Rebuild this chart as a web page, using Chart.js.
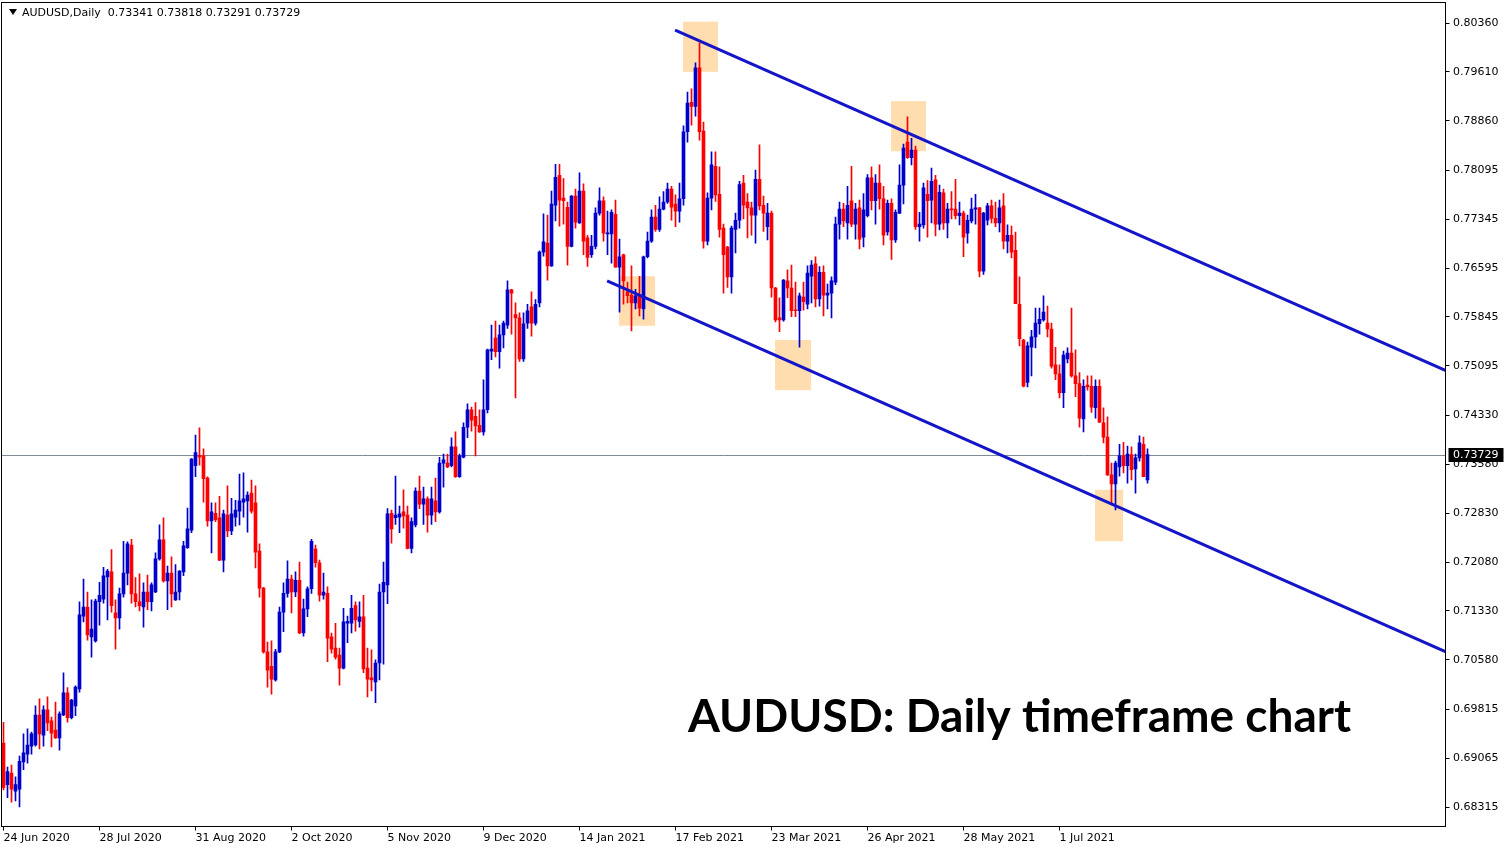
<!DOCTYPE html>
<html>
<head>
<meta charset="utf-8">
<script src="https://cdn.jsdelivr.net/npm/chart.js@4.4.0/dist/chart.umd.min.js"></script>
<style>
html, body { margin: 0; padding: 0; background: #fff; }
canvas { display: block; }
</style>
</head>
<body>
<canvas id="myChart" width="1510" height="850"></canvas>
<script>
const header = 'AUDUSD,Daily  0.73341 0.73818 0.73291 0.73729';
const caption = 'AUDUSD: Daily timeframe chart';

// trading days, weekends and these two skipped
const startDate = '2020-06-24';
const holidays = ['2020-12-25', '2021-01-01'];
const totalSlots = 361;

const tickLabels = ['24 Jun 2020', '28 Jul 2020', '31 Aug 2020', '2 Oct 2020', '5 Nov 2020', '9 Dec 2020',
  '14 Jan 2021', '17 Feb 2021', '23 Mar 2021', '26 Apr 2021', '28 May 2021', '1 Jul 2021'];
const yTicks = [0.80360, 0.79610, 0.78860, 0.78095, 0.77345, 0.76595, 0.75845, 0.75095, 0.74330,
  0.73580, 0.72830, 0.72080, 0.71330, 0.70580, 0.69815, 0.69065, 0.68315];

const opens = [
  .6930,.6866,.6884,.6856,.6859,.6901,.6913,.6925,.6927,.6973,.6942,.6981,.6964,.6950,.6938,.6973,.7007,.6969,.6987,.7013,
  .7125,.7139,.7093,.7087,.7147,.7151,.7185,.7193,.7130,.7122,.7159,.7191,.7234,.7159,.7147,.7139,.7162,.7147,.7162,.7213,
  .7242,.7179,.7191,.7150,.7162,.7193,.7230,.7257,.7356,.7372,.7371,.7337,.7271,.7283,.7276,.7211,.7280,.7256,.7277,.7286,
  .7300,.7302,.7314,.7299,.7225,.7168,.7070,.7048,.7027,.7070,.7131,.7160,.7182,.7162,.7180,.7099,.7136,.7167,.7228,.7207,
  .7157,.7160,.7093,.7076,.7065,.7045,.7114,.7114,.7141,.7117,.7124,.7045,.7030,.7024,.7053,.7162,.7173,.7283,.7276,.7277,
  .7285,.7280,.7229,.7265,.7317,.7297,.7305,.7280,.7302,.7285,.7360,.7360,.7356,.7385,.7339,.7369,.7415,.7442,.7432,.7418,
  .7408,.7442,.7532,.7552,.7531,.7557,.7572,.7626,.7588,.7583,.7520,.7575,.7600,.7575,.7606,.7684,.7698,.7663,.7756,.7802,
  .7767,.7753,.7693,.7770,.7729,.7778,.7706,.7680,.7693,.7744,.7763,.7712,.7712,.7742,.7661,.7680,.7623,.7618,.7606,.7618,
  .7597,.7677,.7701,.7738,.7719,.7750,.7761,.7781,.7758,.7747,.7766,.7869,.7914,.7908,.7967,.7870,.7701,.7767,.7816,.7773,
  .7721,.7692,.7646,.7719,.7733,.7790,.7761,.7752,.7741,.7796,.7756,.7723,.7744,.7629,.7583,.7580,.7640,.7629,.7595,.7594,
  .7615,.7604,.7647,.7666,.7612,.7653,.7618,.7621,.7638,.7727,.7750,.7729,.7763,.7727,.7752,.7707,.7740,.7798,.7763,.7790,
  .7766,.7715,.7759,.7703,.7744,.7787,.7853,.7829,.7841,.7723,.7726,.7773,.7764,.7795,.7727,.7775,.7729,.7750,.7750,.7740,
  .7744,.7713,.7732,.7750,.7752,.7655,.7733,.7755,.7736,.7729,.7755,.7701,.7710,.7687,.7604,.7549,.7484,.7538,.7554,.7574,
  .7580,.7575,.7566,.7511,.7497,.7468,.7520,.7529,.7494,.7482,.7428,.7480,.7478,.7445,.7478,.7422,.7400,.7342,.7328,.7354,
  .7371,.7356,.7373,.7351,.7368,.7389,.73341
];
const highs = [
  .6962,.6893,.6896,.6878,.6910,.6944,.6952,.6947,.6987,.6998,.6987,.7001,.6970,.6993,.6978,.7038,.7015,.6997,.7018,.7147,
  .7182,.7162,.7150,.7151,.7177,.7200,.7197,.7227,.7150,.7168,.7240,.7239,.7243,.7184,.7190,.7176,.7188,.7176,.7222,.7265,
  .7276,.7202,.7216,.7204,.7195,.7240,.7291,.7367,.7403,.7414,.7382,.7339,.7299,.7299,.7309,.7288,.7325,.7306,.7303,.7343,
  .7345,.7316,.7334,.7325,.7236,.7169,.7085,.7087,.7074,.7139,.7176,.7210,.7188,.7193,.7208,.7151,.7170,.7243,.7234,.7211,
  .7191,.7170,.7099,.7114,.7076,.7137,.7125,.7157,.7147,.7147,.7157,.7076,.7073,.7058,.7174,.7208,.7290,.7288,.7340,.7294,
  .7319,.7294,.7276,.7322,.7340,.7323,.7308,.7323,.7337,.7369,.7374,.7374,.7399,.7408,.7374,.7422,.7451,.7446,.7453,.7442,
  .7488,.7535,.7572,.7578,.7572,.7578,.7640,.7627,.7606,.7591,.7591,.7604,.7623,.7611,.7686,.7743,.7741,.7778,.7819,.7819,
  .7797,.7761,.7771,.7781,.7806,.7789,.7710,.7710,.7752,.7783,.7769,.7747,.7749,.7764,.7704,.7681,.7638,.7663,.7627,.7647,
  .7678,.7715,.7749,.7756,.7769,.7777,.7790,.7785,.7772,.7790,.7878,.7930,.7935,.7975,.8005,.7884,.7775,.7838,.7838,.7815,
  .7727,.7693,.7724,.7744,.7793,.7802,.7774,.7761,.7810,.7849,.7770,.7759,.7747,.7630,.7614,.7642,.7657,.7664,.7638,.7621,
  .7638,.7663,.7671,.7677,.7662,.7663,.7635,.7646,.7738,.7761,.7759,.7785,.7816,.7759,.7764,.7774,.7803,.7815,.7803,.7818,
  .7785,.7764,.7766,.7749,.7818,.7850,.7892,.7859,.7847,.7745,.7790,.7794,.7813,.7802,.7787,.7781,.7759,.7777,.7796,.7761,
  .7747,.7741,.7767,.7773,.7753,.7745,.7759,.7764,.7761,.7764,.7774,.7726,.7724,.7715,.7646,.7550,.7546,.7564,.7598,.7598,
  .7617,.7601,.7575,.7538,.7511,.7532,.7537,.7598,.7534,.7499,.7488,.7494,.7494,.7488,.7488,.7445,.7431,.7360,.7363,.7389,
  .7392,.7386,.7385,.7374,.7402,.7400,.73818
];
const lows = [
  .6858,.6846,.6839,.6841,.6832,.6889,.6899,.6913,.6925,.6921,.6925,.6949,.6924,.6937,.6919,.6972,.6962,.6967,.6972,.7008,
  .7116,.7088,.7062,.7085,.7111,.7145,.7119,.7131,.7074,.7105,.7154,.7173,.7145,.7139,.7133,.7108,.7135,.7133,.7161,.7211,
  .7177,.7135,.7139,.7149,.7150,.7187,.7229,.7253,.7339,.7357,.7300,.7263,.7222,.7270,.7210,.7193,.7247,.7250,.7263,.7265,
  .7277,.7254,.7283,.7199,.7154,.7068,.7016,.7005,.7025,.7069,.7101,.7154,.7130,.7155,.7098,.7094,.7124,.7160,.7200,.7148,
  .7151,.7055,.7068,.7059,.7019,.7044,.7084,.7099,.7102,.7108,.7038,.7001,.7010,.6992,.7027,.7051,.7144,.7237,.7266,.7253,
  .7260,.7228,.7222,.7262,.7290,.7266,.7254,.7266,.7270,.7283,.7323,.7353,.7354,.7338,.7338,.7368,.7399,.7409,.7371,.7407,
  .7403,.7437,.7519,.7523,.7506,.7537,.7567,.7558,.7460,.7516,.7516,.7567,.7555,.7572,.7600,.7678,.7641,.7662,.7732,.7724,
  .7727,.7664,.7692,.7721,.7728,.7680,.7662,.7676,.7689,.7741,.7701,.7680,.7667,.7661,.7592,.7604,.7606,.7563,.7597,.7586,
  .7581,.7675,.7699,.7716,.7716,.7749,.7759,.7733,.7723,.7730,.7756,.7853,.7879,.7893,.7856,.7690,.7695,.7749,.7762,.7707,
  .7621,.7630,.7621,.7683,.7721,.7735,.7706,.7710,.7698,.7749,.7716,.7703,.7615,.7577,.7562,.7578,.7614,.7585,.7585,.7538,
  .7595,.7597,.7606,.7600,.7601,.7586,.7597,.7583,.7634,.7704,.7723,.7704,.7723,.7704,.7689,.7692,.7738,.7749,.7727,.7750,
  .7695,.7710,.7673,.7699,.7743,.7758,.7828,.7818,.7719,.7701,.7721,.7707,.7729,.7709,.7718,.7719,.7706,.7735,.7735,.7726,
  .7677,.7698,.7729,.7727,.7646,.7650,.7726,.7729,.7723,.7715,.7689,.7683,.7675,.7605,.7540,.7477,.7477,.7494,.7537,.7558,
  .7578,.7554,.7506,.7488,.7460,.7445,.7514,.7492,.7462,.7415,.7408,.7472,.7438,.7429,.7422,.7391,.7341,.7299,.7288,.7340,
  .7345,.7329,.7334,.7314,.7363,.7342,.73291
];
const closes = [
  .6862,.6886,.6859,.6866,.6902,.6915,.6927,.6944,.6973,.6944,.6981,.6961,.6945,.6938,.6975,.7007,.6969,.6996,.7016,.7127,
  .7139,.7096,.7105,.7148,.7157,.7187,.7194,.7141,.7122,.7159,.7191,.7236,.7159,.7147,.7141,.7162,.7147,.7173,.7213,.7242,
  .7179,.7191,.7159,.7162,.7194,.7233,.7259,.7366,.7376,.7369,.7336,.7271,.7285,.7273,.7211,.7282,.7256,.7282,.7288,.7302,
  .7305,.7311,.7286,.7223,.7168,.7070,.7042,.7028,.7070,.7131,.7160,.7182,.7162,.7180,.7099,.7136,.7167,.7240,.7207,.7157,
  .7162,.7091,.7074,.7062,.7045,.7116,.7117,.7137,.7119,.7124,.7044,.7028,.7027,.7053,.7162,.7177,.7282,.7259,.7280,.7282,
  .7279,.7229,.7270,.7317,.7297,.7305,.7280,.7305,.7285,.7360,.7365,.7354,.7385,.7339,.7371,.7415,.7442,.7426,.7417,.7408,
  .7442,.7534,.7535,.7531,.7557,.7575,.7626,.7621,.7583,.7520,.7574,.7594,.7575,.7604,.7684,.7700,.7663,.7758,.7799,.7764,
  .7763,.7693,.7770,.7730,.7778,.7701,.7676,.7693,.7744,.7763,.7713,.7713,.7745,.7661,.7677,.7640,.7617,.7606,.7617,.7598,
  .7677,.7701,.7738,.7719,.7750,.7761,.7781,.7753,.7747,.7766,.7869,.7913,.7908,.7967,.7869,.7701,.7767,.7818,.7772,.7719,
  .7680,.7646,.7721,.7733,.7788,.7756,.7752,.7741,.7796,.7755,.7744,.7744,.7629,.7580,.7580,.7641,.7629,.7594,.7594,.7617,
  .7608,.7652,.7664,.7612,.7653,.7618,.7621,.7640,.7727,.7750,.7732,.7756,.7727,.7750,.7704,.7749,.7798,.7763,.7790,.7766,
  .7710,.7759,.7703,.7745,.7787,.7844,.7829,.7841,.7723,.7727,.7783,.7763,.7793,.7727,.7776,.7729,.7750,.7749,.7740,.7744,
  .7707,.7733,.7750,.7752,.7655,.7744,.7755,.7736,.7729,.7752,.7701,.7710,.7684,.7605,.7551,.7478,.7540,.7554,.7575,.7581,
  .7592,.7566,.7509,.7497,.7468,.7526,.7529,.7494,.7482,.7429,.7478,.7477,.7446,.7478,.7423,.7400,.7342,.7328,.7360,.7371,
  .7356,.7374,.7350,.7368,.7391,.7339,.73729
];

// channel lines: [candle index, price] at each end
const upperTrend = [[167.9, 0.8025], [360.6, 0.7502]];
const lowerTrend = [[150.9, 0.7640], [360.6, 0.7070]];
// highlight boxes: [from index, to index, top price, bottom price]
const zones = [
  [169.9, 178.6, 0.8038, 0.7961],
  [221.9, 230.6, 0.7916, 0.7839],
  [153.9, 162.9, 0.7647, 0.7571],
  [192.9, 201.9, 0.7549, 0.7472],
  [272.9, 279.9, 0.7319, 0.7240]
];

const upColor = '#0000CD';
const downColor = '#FF0000';
const lineColor = '#1414C8';
const zoneColor = '#FFDDAE';
const axisFont = { family: 'DejaVu Sans', size: 11 };

const months = ['Jan','Feb','Mar','Apr','May','Jun','Jul','Aug','Sep','Oct','Nov','Dec'];
const dates = [];
let day = new Date(startDate + 'T00:00:00Z');
while (dates.length < totalSlots) {
  const iso = day.toISOString().slice(0, 10);
  const wd = day.getUTCDay();
  if (wd !== 0 && wd !== 6 && !holidays.includes(iso)) {
    dates.push(day.getUTCDate() + ' ' + months[day.getUTCMonth()] + ' ' + day.getUTCFullYear());
  }
  day.setUTCDate(day.getUTCDate() + 1);
}

const candleColors = closes.map((c, i) => c >= opens[i] ? upColor : downColor);
const lastClose = closes[closes.length - 1];

function noPadding(s) {
  s.paddingTop = 0; s.paddingBottom = 0; s.paddingLeft = 0; s.paddingRight = 0;
}

const extras = {
  id: 'extras',
  beforeDraw(chart) {
    const c = chart.ctx;
    c.save();
    c.fillStyle = '#fff';
    c.fillRect(0, 0, chart.width, chart.height);
    c.restore();
  },
  beforeDatasetsDraw(chart) {
    const c = chart.ctx, a = chart.chartArea;
    const xs = chart.scales.xl, ys = chart.scales.y;
    c.save();
    c.fillStyle = zoneColor;
    zones.forEach(z => {
      const x0 = xs.getPixelForValue(z[0]), x1 = xs.getPixelForValue(z[1]);
      const y0 = ys.getPixelForValue(z[2]), y1 = ys.getPixelForValue(z[3]);
      c.fillRect(x0, y0, x1 - x0, y1 - y0);
    });
    const py = Math.round(ys.getPixelForValue(lastClose)) + 0.5;
    c.strokeStyle = '#808a96';
    c.lineWidth = 1;
    c.beginPath();
    c.moveTo(a.left, py);
    c.lineTo(a.right, py);
    c.stroke();
    c.restore();
  },
  afterDraw(chart) {
    const c = chart.ctx, a = chart.chartArea, ys = chart.scales.y;
    c.save();
    // frame
    c.strokeStyle = '#000';
    c.lineWidth = 1;
    c.strokeRect(a.left, a.top, a.right - a.left, a.bottom - a.top);
    // price tag
    const py = Math.round(ys.getPixelForValue(lastClose));
    c.fillStyle = '#000';
    c.fillRect(a.right + 3, py - 7, 55, 14);
    c.fillStyle = '#fff';
    c.font = '11px "DejaVu Sans"';
    c.textBaseline = 'middle';
    c.fillText(lastClose.toFixed(5), a.right + 7.5, py + 0.5);
    // header
    c.fillStyle = '#000';
    c.beginPath();
    c.moveTo(9, 9); c.lineTo(17, 9); c.lineTo(13, 15); c.closePath();
    c.fill();
    c.fillText(header, 22, 13);
    // caption
    c.font = 'bold 46px Lato';
    c.textBaseline = 'alphabetic';
    c.fillText(caption, 688, 732);
    c.restore();
  }
};

const ctx = document.getElementById('myChart').getContext('2d');

const myChart = new Chart(ctx, {
  type: 'bar',
  data: {
    labels: dates,
    datasets: [{
      type: 'line',
      data: upperTrend.map(p => ({ x: p[0], y: p[1] })),
      xAxisID: 'xl',
      borderColor: lineColor,
      borderWidth: 3,
      pointRadius: 0,
      order: 0
    }, {
      type: 'line',
      data: lowerTrend.map(p => ({ x: p[0], y: p[1] })),
      xAxisID: 'xl',
      borderColor: lineColor,
      borderWidth: 3,
      pointRadius: 0,
      order: 0
    }, {
      label: 'body',
      data: opens.map((o, i) => [o, closes[i]]),
      backgroundColor: candleColors,
      barThickness: 3,
      minBarLength: 1,
      grouped: false,
      order: 1
    }, {
      label: 'wick',
      data: lows.map((l, i) => [l, highs[i]]),
      backgroundColor: candleColors,
      barThickness: 1,
      grouped: false,
      order: 2
    }]
  },
  options: {
    responsive: false,
    animation: false,
    layout: { padding: { left: 1.5, top: 2.5, right: 0, bottom: 0 } },
    plugins: { legend: { display: false }, tooltip: { enabled: false } },
    scales: {
      x: {
        type: 'category',
        offset: true,
        grid: {
          drawOnChartArea: false,
          offset: false,
          tickLength: 4,
          color: c => tickLabels.includes(dates[c.index]) ? '#000' : 'rgba(0,0,0,0)'
        },
        border: { color: '#000' },
        ticks: {
          autoSkip: false,
          maxRotation: 0,
          minRotation: 0,
          align: 'start',
          padding: 1,
          color: '#000',
          font: axisFont,
          callback: (v, i) => tickLabels.includes(dates[i]) ? dates[i] : ''
        },
        afterFit: s => { s.height = 23.5; noPadding(s); }
      },
      xl: {
        type: 'linear',
        display: false,
        offset: false,
        grid: { offset: false },
        min: -0.5,
        max: totalSlots - 0.5
      },
      y: {
        type: 'linear',
        position: 'right',
        min: 0.68018,
        max: 0.80675,
        afterBuildTicks: s => { s.ticks = yTicks.map(v => ({ value: v })); },
        grid: { drawOnChartArea: false, tickLength: 4, color: '#000' },
        border: { color: '#000' },
        ticks: {
          padding: 3.5,
          color: '#000',
          font: axisFont,
          callback: v => v.toFixed(5)
        },
        afterFit: s => { s.width = 64.5; noPadding(s); }
      }
    }
  },
  plugins: [extras]
});
</script>
</body>
</html>
